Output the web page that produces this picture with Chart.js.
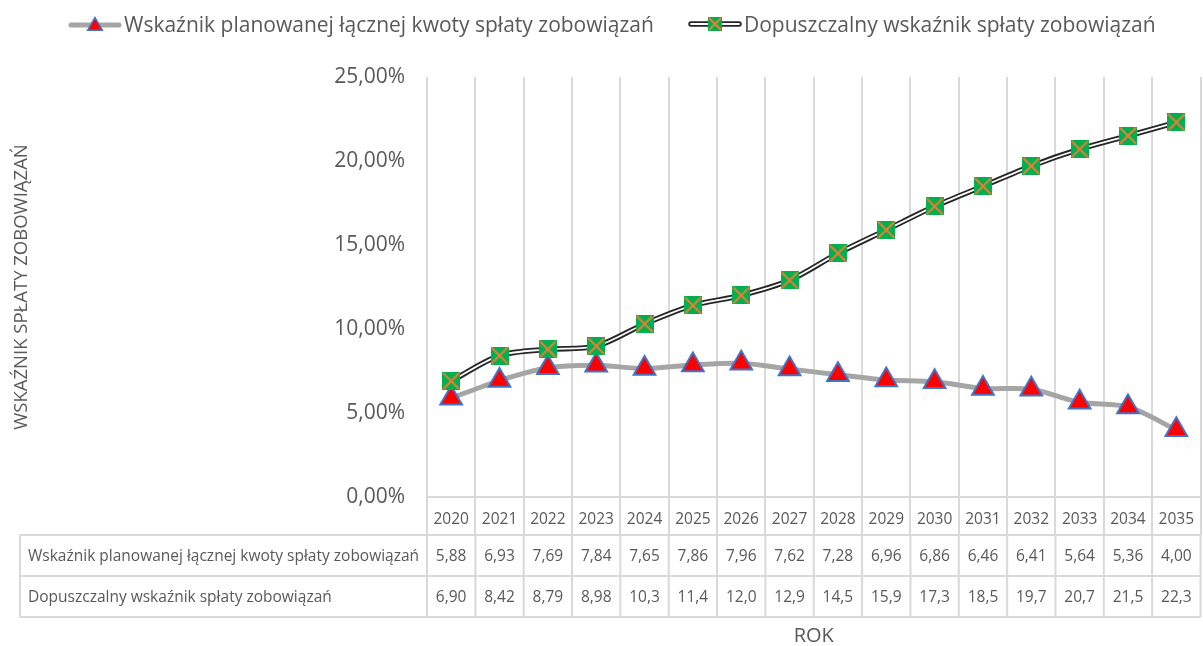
<!DOCTYPE html>
<html lang="pl">
<head>
  <meta charset="UTF-8" />
  <title>Wskaźnik spłaty zobowiązań</title>
  <script src="https://cdn.jsdelivr.net/npm/chart.js"></script>
  <style>
    html, body {
      margin: 0;
      padding: 0;
      width: 1203px;
      height: 646px;
      overflow: hidden;
      background: #fff;
      font-family: 'Open Sans', sans-serif;
      color: #595959;
    }
    .chart-box {
      position: absolute;
      left: 0;
      top: 0;
      width: 1215px;
      height: 646px;
    }
    .legend-item {
      position: absolute;
      top: 10px;
      display: flex;
      align-items: center;
      font-size: 21px;
      white-space: nowrap;
    }
    .legend-item img { margin-right: 2px; }
  </style>
</head>
<body>
  <div class="chart-box"><canvas id="chart"></canvas></div>
  <div class="legend-item" id="leg1" style="left:68px"></div>
  <div class="legend-item" id="leg2" style="left:688px"></div>

  <script>
    const lata = ['2020', '2021', '2022', '2023', '2024', '2025', '2026', '2027',
                  '2028', '2029', '2030', '2031', '2032', '2033', '2034', '2035'];
    const planowany = [5.88, 6.93, 7.69, 7.84, 7.65, 7.86, 7.96, 7.62,
                       7.28, 6.96, 6.86, 6.46, 6.41, 5.64, 5.36, 4.00];
    const dopuszczalny = [6.90, 8.42, 8.79, 8.98, 10.3, 11.4, 12.0, 12.9,
                          14.5, 15.9, 17.3, 18.5, 19.7, 20.7, 21.5, 22.3];
    const nazwa1 = 'Wskaźnik planowanej łącznej kwoty spłaty zobowiązań';
    const nazwa2 = 'Dopuszczalny wskaźnik spłaty zobowiązań';
    const yTicks = [0, 5, 10, 15, 20, 25];

    const szary = '#595959';
    const siatka = '#D9D9D9';

    // zielony kwadrat z pomarańczowym X
    function kwadrat(size) {
      const c = document.createElement('canvas');
      c.width = size; c.height = size;
      const g = c.getContext('2d');
      g.fillStyle = '#00B050';
      g.fillRect(0, 0, size, size);
      g.strokeStyle = '#ED7D31';
      g.lineWidth = 2;
      g.beginPath();
      g.moveTo(1, 1); g.lineTo(size - 1, size - 1);
      g.moveTo(size - 1, 1); g.lineTo(1, size - 1);
      g.stroke();
      return c;
    }

    function trojkat(g, cx, cy, r) {
      g.beginPath();
      for (let i = 0; i < 3; i++) {
        const a = i * 2 * Math.PI / 3;
        const px = cx + Math.sin(a) * r, py = cy - Math.cos(a) * r;
        i ? g.lineTo(px, py) : g.moveTo(px, py);
      }
      g.closePath();
      g.fillStyle = '#FF0000';
      g.fill();
      g.strokeStyle = '#4472C4';
      g.lineWidth = 1.5;
      g.stroke();
    }

    // symbole legendy
    function symbol1() {
      const c = document.createElement('canvas');
      c.width = 54; c.height = 24;
      const g = c.getContext('2d');
      g.strokeStyle = '#A5A5A5'; g.lineWidth = 5; g.lineCap = 'round';
      g.beginPath(); g.moveTo(3, 13); g.lineTo(51, 13); g.stroke();
      trojkat(g, 27, 14, 8.5);
      return c;
    }
    function symbol2() {
      const c = document.createElement('canvas');
      c.width = 54; c.height = 24;
      const g = c.getContext('2d');
      g.lineCap = 'round';
      g.strokeStyle = '#262626'; g.lineWidth = 5.5;
      g.beginPath(); g.moveTo(3, 12); g.lineTo(51, 12); g.stroke();
      g.strokeStyle = '#fff'; g.lineWidth = 1.8;
      g.beginPath(); g.moveTo(3, 12); g.lineTo(51, 12); g.stroke();
      g.drawImage(kwadrat(14), 20, 5);
      return c;
    }
    function legenda(id, sym, text) {
      const el = document.getElementById(id);
      const img = new Image();
      img.src = sym.toDataURL();
      img.width = 54; img.height = 24;
      el.appendChild(img);
      el.appendChild(document.createTextNode(text));
    }
    legenda('leg1', symbol1(), nazwa1);
    legenda('leg2', symbol2(), nazwa2);

    const fmt = v => v.toPrecision(3).replace('.', ',');

    // tabela danych pod osią X
    const tabela = {
      id: 'tabela',
      afterDraw(chart) {
        const { ctx, chartArea } = chart;
        const x = chart.scales.x;
        const half = (x.getPixelForValue(1) - x.getPixelForValue(0)) / 2;
        const y0 = chartArea.bottom + 38, y1 = y0 + 41, y2 = y1 + 41;
        const left = 20, right = chartArea.right;
        ctx.save();
        ctx.strokeStyle = siatka;
        ctx.lineWidth = 2;
        ctx.beginPath();
        [y0, y1, y2].forEach(y => { ctx.moveTo(left, y); ctx.lineTo(right, y); });
        ctx.moveTo(left, y0); ctx.lineTo(left, y2);
        for (let i = 0; i <= lata.length; i++) {
          const px = x.getPixelForValue(0) - half + i * 2 * half;
          ctx.moveTo(px, y0); ctx.lineTo(px, y2);
        }
        ctx.stroke();
        ctx.fillStyle = szary;
        ctx.font = '15.5px "Open Sans"';
        ctx.textBaseline = 'middle';
        ctx.textAlign = 'left';
        ctx.fillText(nazwa1, 28, (y0 + y1) / 2 + 1);
        ctx.fillText(nazwa2, 28, (y1 + y2) / 2 + 1);
        ctx.textAlign = 'center';
        lata.forEach((_, i) => {
          const px = x.getPixelForValue(i);
          ctx.fillText(fmt(planowany[i]), px, (y0 + y1) / 2 + 1);
          ctx.fillText(fmt(dopuszczalny[i]), px, (y1 + y2) / 2 + 1);
        });
        ctx.restore();
      }
    };

    new Chart(document.getElementById('chart'), {
      type: 'line',
      data: {
        labels: lata,
        datasets: [
          {
            label: nazwa2,
            data: dopuszczalny,
            borderColor: '#fff',
            borderWidth: 1.8,
            tension: 0.3,
            pointStyle: kwadrat(18),
            pointRadius: 9,
            order: 1
          },
          {
            label: nazwa2 + ' (obrys)',
            data: dopuszczalny,
            borderColor: '#262626',
            borderWidth: 5.5,
            tension: 0.3,
            pointRadius: 0,
            order: 2
          },
          {
            label: nazwa1,
            data: planowany,
            borderColor: '#A5A5A5',
            borderWidth: 5,
            tension: 0.3,
            pointStyle: 'triangle',
            pointRadius: 12.5,
            pointBackgroundColor: '#FF0000',
            pointBorderColor: '#4472C4',
            pointBorderWidth: 2,
            order: 3
          }
        ]
      },
      options: {
        responsive: true,
        maintainAspectRatio: false,
        animation: false,
        layout: { padding: { top: 77, right: 8, left: 0, bottom: 0 } },
        plugins: {
          legend: { display: false },
          tooltip: { enabled: false }
        },
        scales: {
          x: {
            offset: true,
            afterFit: s => { s.height = 646 - 497; },
            grid: { offset: true, color: siatka, lineWidth: 2, tickLength: 38 },
            border: { color: siatka, width: 2 },
            ticks: { color: szary, font: { family: 'Open Sans', size: 15.5 }, padding: -25, maxRotation: 0, autoSkip: false },
            title: { display: true, text: 'ROK', color: szary, font: { family: 'Open Sans', size: 20, lineHeight: 1 }, padding: 0 }
          },
          y: {
            min: 0,
            max: 25,
            afterFit: s => { s.width = 427; },
            afterBuildTicks: s => { s.ticks = yTicks.map(v => ({ value: v })); },
            grid: { display: false, drawTicks: false },
            border: { display: false },
            ticks: {
              color: szary,
              padding: 22,
              font: { family: 'Open Sans', size: 21 },
              callback: v => v.toFixed(2).replace('.', ',') + '%'
            },
            title: {
              display: true,
              text: 'WSKAŹNIK SPŁATY ZOBOWIĄZAŃ',
              color: szary,
              font: { family: 'Open Sans', size: 18.5 },
              padding: { top: 11, bottom: 0 }
            }
          }
        }
      },
      plugins: [tabela]
    });
  </script>
</body>
</html>
